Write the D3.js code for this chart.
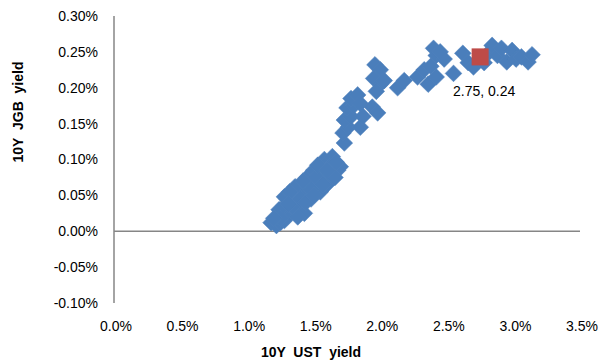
<!DOCTYPE html>
<html>
<head>
<meta charset="utf-8">
<script src="https://cdn.jsdelivr.net/npm/d3@7"></script>
<style>
  body { margin: 0; background: #fff; }
  text { font-family: "Liberation Sans", Arial, sans-serif; fill: #000; }
</style>
</head>
<body>
<div id="chart"></div>
<script>
// 10Y UST yield (%) vs 10Y JGB yield (%)
var ustYield = [
  1.18, 1.22, 1.25, 1.28, 1.22, 1.26, 1.30, 1.32, 1.28, 1.24, 1.30, 1.28, 1.33, 1.36, 1.35,
  1.38, 1.40, 1.42, 1.40, 1.36, 1.44, 1.46, 1.48, 1.45, 1.50, 1.52, 1.55, 1.50, 1.54, 1.56,
  1.58, 1.60, 1.62, 1.58, 1.62, 1.65, 1.68, 1.70, 1.64, 1.66, 1.32, 1.43, 1.38,
  1.34, 1.40, 1.46, 1.52, 1.57, 1.48, 1.62, 1.25, 1.20, 1.31, 1.42, 1.53, 1.60, 1.67, 1.44, 1.50,
  1.73, 1.72, 1.76, 1.85, 1.73, 1.78, 1.75, 1.80, 1.78, 1.83, 1.87, 1.85, 1.94, 1.98,
  1.96, 2.00, 1.95, 2.00, 1.97, 2.03, 2.13, 2.18, 2.28, 2.33, 2.38, 2.36, 2.42,
  2.40, 2.42, 2.48, 2.45, 2.55, 2.62, 2.66, 2.70, 2.78, 2.82, 2.84, 2.88, 2.91, 2.95,
  2.99, 3.02, 3.06, 3.11, 3.14
];
var jgbYield = [
  0.012, 0.008, 0.012, 0.015, 0.020, 0.025, 0.020, 0.028, 0.035, 0.030, 0.045, 0.048, 0.040, 0.030, 0.050,
  0.042, 0.035, 0.050, 0.060, 0.062, 0.065, 0.055, 0.045, 0.075, 0.070, 0.060, 0.055, 0.085, 0.080, 0.090,
  0.075, 0.065, 0.080, 0.100, 0.098, 0.090, 0.085, 0.090, 0.104, 0.075, 0.055, 0.025, 0.020,
  0.035, 0.045, 0.065, 0.075, 0.065, 0.058, 0.090, 0.018, 0.018, 0.038, 0.070, 0.092, 0.085, 0.096, 0.040, 0.050,
  0.123, 0.137, 0.145, 0.145, 0.155, 0.160, 0.172, 0.175, 0.185, 0.190, 0.160, 0.178, 0.173, 0.165,
  0.232, 0.225, 0.213, 0.205, 0.195, 0.210, 0.200, 0.210, 0.215, 0.225, 0.230, 0.205, 0.215,
  0.255, 0.245, 0.240, 0.250, 0.220, 0.248, 0.235, 0.229, 0.235, 0.250, 0.259, 0.245, 0.255, 0.236,
  0.252, 0.240, 0.243, 0.236, 0.246
];
// latest observation
var latestUst = [2.75];
var latestJgb = [0.243];

var xTicks = [0, 0.5, 1, 1.5, 2, 2.5, 3, 3.5];
var yTicks = [-0.1, -0.05, 0, 0.05, 0.1, 0.15, 0.2, 0.25, 0.3];

var width = 600, height = 364;
var svg = d3.select("#chart").append("svg")
  .attr("width", width)
  .attr("height", height);

var x = d3.scaleLinear().domain([0, 3.5]).range([114, 580]);
var y = d3.scaleLinear().domain([-0.1, 0.3]).range([303, 16]);

var axisColor = "#868686";
var fmtY = function(d) { return d3.format(".2f")(d).replace("\u2212", "-") + "%"; };

// y axis line
svg.append("line")
  .attr("x1", x(0)).attr("x2", x(0))
  .attr("y1", y(0.3)).attr("y2", y(-0.1))
  .attr("stroke", axisColor).attr("stroke-width", 1.5);
// x axis line at zero
svg.append("line")
  .attr("x1", x(0)).attr("x2", x(3.5))
  .attr("y1", y(0)).attr("y2", y(0))
  .attr("stroke", axisColor).attr("stroke-width", 1.5);

// tick labels
svg.selectAll(".ylab").data(yTicks).enter().append("text")
  .attr("class", "ylab")
  .attr("x", 98)
  .attr("y", function(d) { return y(d); })
  .attr("dy", "0.35em")
  .attr("text-anchor", "end")
  .style("font-size", "14px")
  .text(fmtY);

svg.selectAll(".xlab").data(xTicks).enter().append("text")
  .attr("class", "xlab")
  .attr("x", function(d) { return x(d) + 2; })
  .attr("y", 331)
  .attr("text-anchor", "middle")
  .style("font-size", "14px")
  .text(function(d) { return d3.format(".1f")(d) + "%"; });

// axis titles
svg.append("text")
  .attr("transform", "translate(23,112) rotate(-90)")
  .attr("text-anchor", "middle")
  .style("font-size", "14px")
  .style("font-weight", "bold")
  .style("white-space", "pre")
  .text("10Y  JGB  yield");

svg.append("text")
  .attr("x", 311)
  .attr("y", 357)
  .attr("text-anchor", "middle")
  .style("font-size", "14px")
  .style("font-weight", "bold")
  .style("white-space", "pre")
  .text("10Y  UST  yield");

// points
var points = ustYield.map(function(d, i) { return { ust: d, jgb: jgbYield[i] }; });
var diamond = d3.symbol().type(d3.symbolSquare).size(140);

svg.append("g").selectAll("path").data(points).enter().append("path")
  .attr("d", diamond)
  .attr("transform", function(d) {
    return "translate(" + x(d.ust) + "," + y(d.jgb) + ") rotate(45)";
  })
  .attr("fill", "#4A7EBB")
  .attr("stroke", "#4F81BD")
  .attr("stroke-width", 0.5);

var latest = latestUst.map(function(d, i) { return { ust: d, jgb: latestJgb[i] }; });
svg.append("g").selectAll("path").data(latest).enter().append("path")
  .attr("d", d3.symbol().type(d3.symbolSquare).size(290))
  .attr("transform", function(d) {
    return "translate(" + x(d.ust) + "," + y(d.jgb) + ")";
  })
  .attr("fill", "#BE4B48");

svg.append("g").selectAll("text").data(latest).enter().append("text")
  .attr("x", function(d) { return x(d.ust) + 4; })
  .attr("y", function(d) { return y(d.jgb) + 39; })
  .attr("text-anchor", "middle")
  .style("font-size", "14px")
  .text(function(d) { return d3.format(".2f")(d.ust) + ", " + d3.format(".2f")(d.jgb); });
</script>
</body>
</html>
